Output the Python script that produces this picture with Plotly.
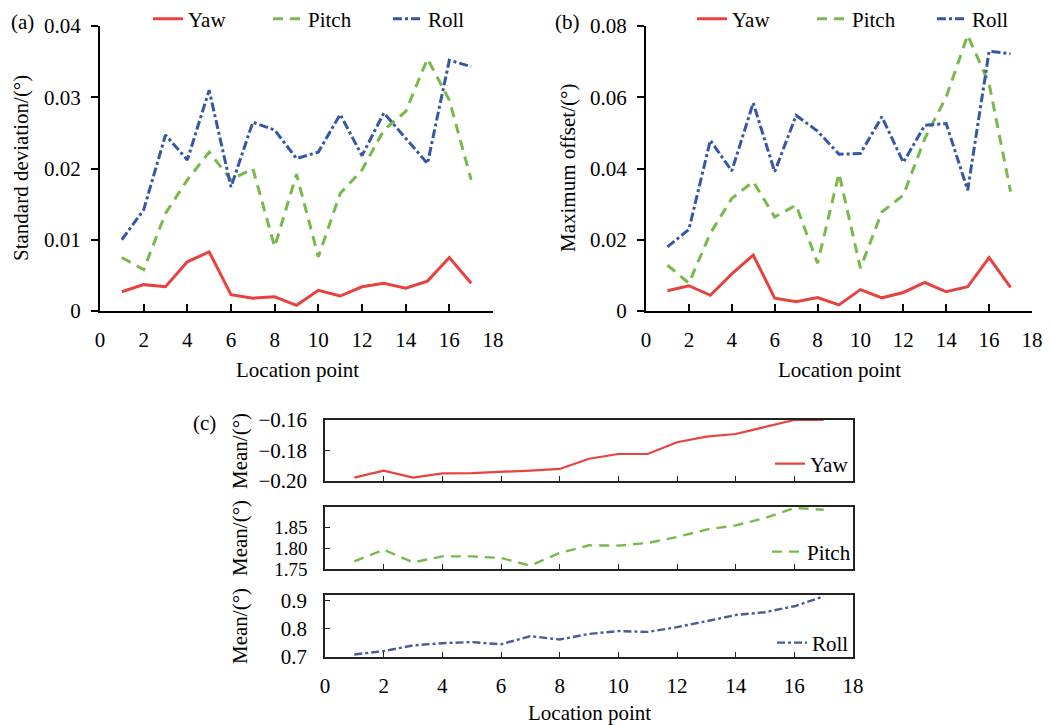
import plotly.graph_objects as go

# page is 1051x725; browser body has an 8px margin, so figure is 1043x717 at (8, 8)
PAGE_OFF = 8
W, H = 1051 - PAGE_OFF, 725 - PAGE_OFF

points = list(range(1, 18))

# (a) standard deviation
sd_yaw = [0.0027, 0.0037, 0.0034, 0.0069, 0.0083, 0.0023, 0.0018, 0.0020, 0.0008,
          0.0029, 0.0021, 0.0034, 0.0039, 0.0032, 0.0042, 0.0075, 0.0039]
sd_pitch = [0.0075, 0.0058, 0.0137, 0.0184, 0.0223, 0.0184, 0.0200, 0.0090, 0.0192,
            0.0076, 0.0165, 0.0198, 0.0254, 0.0280, 0.0354, 0.0296, 0.0184]
sd_roll = [0.0100, 0.0142, 0.0247, 0.0212, 0.0310, 0.0174, 0.0265, 0.0254, 0.0214,
           0.0223, 0.0276, 0.0218, 0.0278, 0.0242, 0.0207, 0.0352, 0.0343]

# (b) maximum offset
mo_yaw = [0.0057, 0.0071, 0.0044, 0.0104, 0.0157, 0.0036, 0.0026, 0.0038, 0.0017,
          0.0060, 0.0037, 0.0052, 0.0080, 0.0054, 0.0068, 0.0150, 0.0066]
mo_pitch = [0.0129, 0.0078, 0.0218, 0.0316, 0.0363, 0.0264, 0.0297, 0.0134, 0.0386,
            0.0120, 0.0278, 0.0325, 0.0484, 0.0601, 0.0774, 0.0638, 0.0335]
mo_roll = [0.0180, 0.0229, 0.0479, 0.0393, 0.0584, 0.0391, 0.0549, 0.0505, 0.0440,
           0.0442, 0.0545, 0.0417, 0.0521, 0.0526, 0.0339, 0.0729, 0.0722]

# (c) mean
mean_yaw = [-0.1978, -0.1932, -0.1978, -0.1950, -0.1948, -0.1941, -0.1932, -0.1921, -0.1854,
            -0.1823, -0.1823, -0.1746, -0.1709, -0.1692, -0.1648, -0.1600, -0.1600]
mean_pitch = [1.7685, 1.7968, 1.7660, 1.7806, 1.7806, 1.7766, 1.7580, 1.7887, 1.8073,
              1.8065, 1.8129, 1.8274, 1.8452, 1.8556, 1.8734, 1.8976, 1.8935]
mean_roll = [0.709, 0.721, 0.741, 0.749, 0.753, 0.745, 0.774, 0.762, 0.782,
             0.792, 0.789, 0.806, 0.827, 0.849, 0.859, 0.880, 0.915]

x_ticks = [0, 2, 4, 6, 8, 10, 12, 14, 16, 18]
a_yticks = [0, 0.01, 0.02, 0.03, 0.04]
a_ytext = ["0", "0.01", "0.02", "0.03", "0.04"]
b_yticks = [0, 0.02, 0.04, 0.06, 0.08]
b_ytext = ["0", "0.02", "0.04", "0.06", "0.08"]
c_yaw_ticks = [-0.20, -0.18, -0.16]
c_yaw_text = ["\u22120.20", "\u22120.18", "\u22120.16"]
c_pitch_ticks = [1.75, 1.80, 1.85]
c_pitch_text = ["1.75", "1.80", "1.85"]
c_roll_ticks = [0.7, 0.8, 0.9]
c_roll_text = ["0.7", "0.8", "0.9"]

RED = "#E8423F"
GREEN = "#79B94B"
BLUE = "#3457A6"
NAVY = "#4A5B9C"
FONT = "Liberation Serif"

def px_x(p):
    return (p - PAGE_OFF) / W

def px_y(p):
    return 1 - (p - PAGE_OFF) / H

fig = go.Figure()

def add_three(xa, ya, yv, pv, rv, legend, width=3):
    fig.add_trace(go.Scatter(x=points, y=yv, mode="lines", name="Yaw", xaxis=xa, yaxis=ya,
                             line=dict(color=RED, width=width), legend=legend))
    fig.add_trace(go.Scatter(x=points, y=pv, mode="lines", name="Pitch", xaxis=xa, yaxis=ya,
                             line=dict(color=GREEN, width=width, dash="10px,7px"), legend=legend))
    fig.add_trace(go.Scatter(x=points, y=rv, mode="lines", name="Roll", xaxis=xa, yaxis=ya,
                             line=dict(color=BLUE, width=width, dash="9px,3px,3px,3px"), legend=legend))

add_three("x", "y", sd_yaw, sd_pitch, sd_roll, "legend")
add_three("x2", "y2", mo_yaw, mo_pitch, mo_roll, "legend2")

fig.add_trace(go.Scatter(x=points, y=mean_yaw, mode="lines", name="Yaw", xaxis="x3", yaxis="y3",
                         line=dict(color=RED, width=2.2), legend="legend3"))
fig.add_trace(go.Scatter(x=points, y=mean_pitch, mode="lines", name="Pitch", xaxis="x4", yaxis="y4",
                         line=dict(color=GREEN, width=2.4, dash="10px,7px"), legend="legend4"))
fig.add_trace(go.Scatter(x=points, y=mean_roll, mode="lines", name="Roll", xaxis="x5", yaxis="y5",
                         line=dict(color=NAVY, width=2.4, dash="8px,3px,3px,3px"), legend="legend5"))

tickfont = dict(family=FONT, size=21, color="black")
small_tickfont = dict(family=FONT, size=19, color="black")

ab_dom_y = [px_y(311), px_y(26)]

common_x_ab = dict(range=[0, 18], tickvals=x_ticks, showline=True, linecolor="black", linewidth=2,
                   ticks="inside", ticklen=7, tickwidth=1.5, tickcolor="black", showgrid=False,
                   zeroline=False, tickfont=tickfont, ticklabelstandoff=9, fixedrange=True)
common_y_ab = dict(showline=True, linecolor="black", linewidth=2, ticks="outside", ticklen=7,
                   tickwidth=1.5, tickcolor="black", showgrid=False, zeroline=False,
                   tickfont=tickfont, ticklabelstandoff=6, fixedrange=True)

common_x_c = dict(range=[0, 18], tickvals=x_ticks, showline=True, linecolor="#222", linewidth=1.5,
                  mirror=True, ticks="inside", ticklen=5, tickwidth=1.3, tickcolor="#222",
                  showgrid=False, zeroline=False, tickfont=tickfont, ticklabelstandoff=9,
                  fixedrange=True)
common_y_c = dict(showline=True, linecolor="#222", linewidth=1.5, mirror=True, ticks="inside",
                  ticklen=5, tickwidth=1.3, tickcolor="#222", showgrid=False, zeroline=False,
                  ticklabelstandoff=12, fixedrange=True)

c_dom_x = [px_x(325), px_x(853)]

leg_font = dict(family=FONT, size=21, color="black")

fig.update_layout(
    width=W, height=H,
    margin=dict(l=0, r=0, t=0, b=0, autoexpand=False),
    paper_bgcolor="white", plot_bgcolor="rgba(0,0,0,0)",
    font=dict(family=FONT, color="black"),
    xaxis=dict(domain=[px_x(100), px_x(493)], anchor="y", **common_x_ab),
    yaxis=dict(domain=ab_dom_y, anchor="x", range=[0, 0.04], tickvals=a_yticks, ticktext=a_ytext,
               **common_y_ab),
    xaxis2=dict(domain=[px_x(646), px_x(1032)], anchor="y2", **common_x_ab),
    yaxis2=dict(domain=ab_dom_y, anchor="x2", range=[0, 0.08], tickvals=b_yticks, ticktext=b_ytext,
                **common_y_ab),
    xaxis3=dict(domain=c_dom_x, anchor="y3", showticklabels=False, **common_x_c),
    yaxis3=dict(domain=[px_y(481), px_y(420)], anchor="x3", range=[-0.2, -0.16],
                tickvals=c_yaw_ticks, ticktext=c_yaw_text, tickfont=tickfont, **common_y_c),
    xaxis4=dict(domain=c_dom_x, anchor="y4", showticklabels=False, **common_x_c),
    yaxis4=dict(domain=[px_y(569), px_y(507)], anchor="x4", range=[1.75, 1.90],
                tickvals=c_pitch_ticks, ticktext=c_pitch_text, tickfont=small_tickfont,
                **common_y_c),
    xaxis5=dict(domain=c_dom_x, anchor="y5", showticklabels=True, **common_x_c),
    yaxis5=dict(domain=[px_y(657), px_y(595)], anchor="x5", range=[0.7, 0.92],
                tickvals=c_roll_ticks, ticktext=c_roll_text, tickfont=tickfont, **common_y_c),
    legend=dict(orientation="h", x=px_x(148), y=px_y(19), xanchor="left", yanchor="middle",
                font=leg_font, bgcolor="rgba(0,0,0,0)",
                entrywidth=75, entrywidthmode="pixels", itemwidth=30, tracegroupgap=0),
    legend2=dict(orientation="h", x=px_x(692), y=px_y(19), xanchor="left", yanchor="middle",
                 font=leg_font, bgcolor="rgba(0,0,0,0)",
                 entrywidth=75, entrywidthmode="pixels", itemwidth=30, tracegroupgap=0),
    legend3=dict(x=px_x(854), y=px_y(464), xanchor="right", yanchor="middle",
                 font=leg_font, bgcolor="rgba(0,0,0,0)"),
    legend4=dict(x=px_x(856), y=px_y(552), xanchor="right", yanchor="middle",
                 font=leg_font, bgcolor="rgba(0,0,0,0)"),
    legend5=dict(x=px_x(854), y=px_y(643), xanchor="right", yanchor="middle",
                 font=leg_font, bgcolor="rgba(0,0,0,0)"),
    showlegend=True,
)

ann_font = dict(family=FONT, size=21, color="black")
annotations = [
    dict(text="(a)", x=px_x(22), y=px_y(22)),
    dict(text="(b)", x=px_x(567), y=px_y(22)),
    dict(text="(c)", x=px_x(204), y=px_y(423)),
    dict(text="Location point", x=px_x(297), y=px_y(370)),
    dict(text="Location point", x=px_x(839), y=px_y(370)),
    dict(text="Location point", x=px_x(589), y=px_y(713)),
    dict(text="Standard deviation/(°)", x=px_x(21), y=px_y(168), textangle=-90),
    dict(text="Maximum offset/(°)", x=px_x(568), y=px_y(168), textangle=-90),
    dict(text="Mean/(°)", x=px_x(240), y=px_y(451), textangle=-90),
    dict(text="Mean/(°)", x=px_x(240), y=px_y(538), textangle=-90),
    dict(text="Mean/(°)", x=px_x(240), y=px_y(626), textangle=-90),
]
for a in annotations:
    a.update(xref="paper", yref="paper", showarrow=False, xanchor="center", yanchor="middle",
             font=ann_font)
fig.update_layout(annotations=annotations)

fig.write_html("out.html")
